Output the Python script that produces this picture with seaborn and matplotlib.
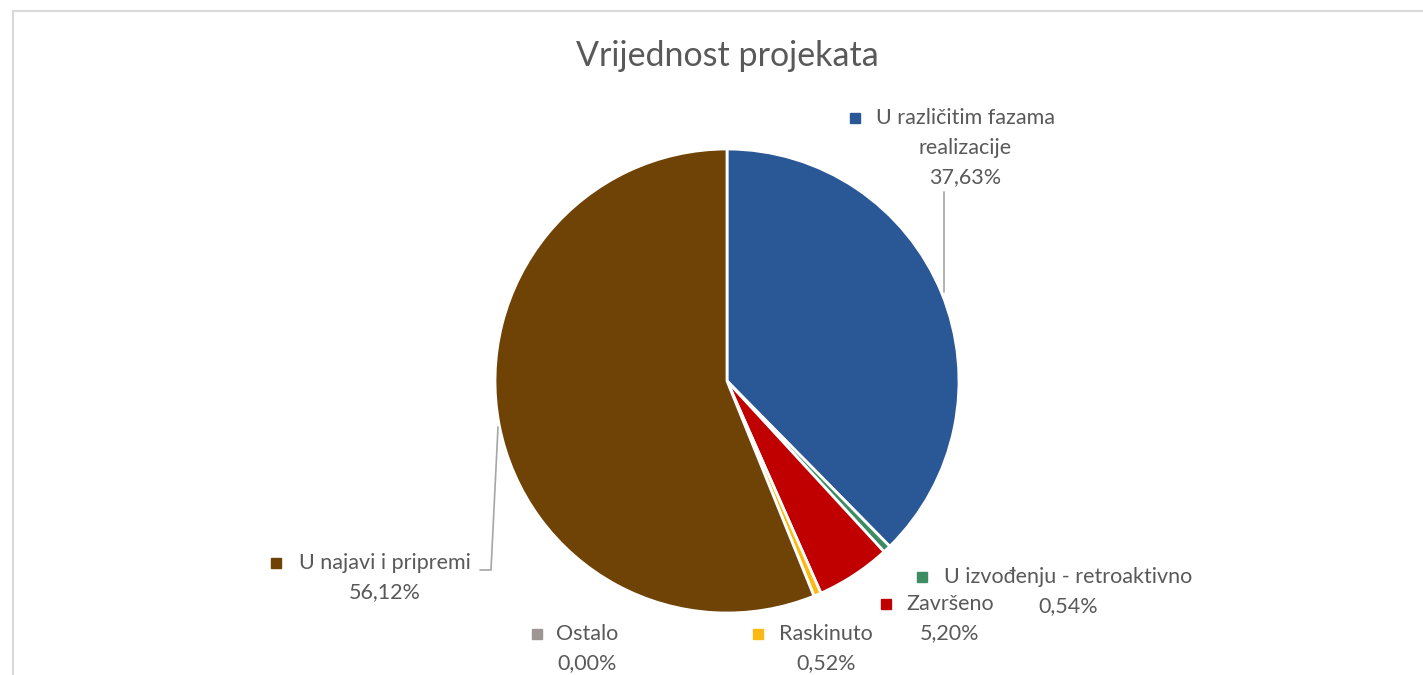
import matplotlib
matplotlib.use("Agg")
import matplotlib.pyplot as plt
from matplotlib.patches import Rectangle
import seaborn as sns

# Data
categories = ["U različitim fazama\nrealizacije", "U izvođenju - retroaktivno", "Završeno",
              "Raskinuto", "Ostalo", "U najavi i pripremi"]
shares = [37.63, 0.54, 5.20, 0.52, 0.00, 56.12]
colors = ["#2A5795", "#3E8C64", "#C00000", "#FDB913", "#9E9595", "#6F4206"]

sns.set_theme(style="white")
plt.rcParams['font.family'] = ['Lato', 'DejaVu Sans']
text_color = "#595959"

W, H = 1423, 675
fig = plt.figure(figsize=(W / 100, H / 100), dpi=100)
ax = fig.add_axes([0, 0, 1, 1])

# pixel layout helpers: pie center and radius in pixels
cx, cy, R = 727, 381, 232
def px(x, y):
    return (x - cx) / R, (cy - y) / R

palette = sns.color_palette(colors)
ax.pie(shares, colors=palette, startangle=90, counterclock=False, radius=1.0,
       center=(0, 0), frame=True,
       wedgeprops=dict(edgecolor='white', linewidth=2.0))
ax.set_xlim(-cx / R, (W - cx) / R)
ax.set_ylim(-(H - cy) / R, cy / R)
ax.set_aspect('equal')
ax.axis('off')

# label layout (pixel positions): text column center x, marker position (first line)
label_x = [965, 1068, 950, 826, 587, 385]
marker_pos = [(855, 118), (922, 577), (886, 604), (758, 634), (537, 634), (276, 563)]
line_gap = 29.5

for cat, val, col, lx, mp in zip(categories, shares, palette, label_x, marker_pos):
    pct = f"{val:.2f}".replace('.', ',') + '%'
    lines = cat.split("\n") + [pct]
    for i, line in enumerate(lines):
        tx, ty = px(lx, mp[1] + i * line_gap)
        ax.text(tx, ty, line, ha='center', va='center', fontsize=15.5, color=text_color)
    mx, my = px(*mp)
    ax.plot([mx], [my], marker='s', markersize=6.5, color=col, linestyle='none')

# leader lines
lx, ly = zip(*[px(944, 192), px(944, 292)])
ax.plot(lx, ly, color="#A6A6A6", linewidth=1.2)
lx, ly = zip(*[px(480, 570), px(491, 570), px(498, 427)])
ax.plot(lx, ly, color="#A6A6A6", linewidth=1.2)

# title
tx, ty = px(727, 56)
ax.text(tx, ty, "Vrijednost projekata", ha='center', va='center', fontsize=24.5, color=text_color)

# chart area frame (left and top edges visible)
fig.add_artist(Rectangle((13 / W, -0.5), 2.0, 1.5 - 11 / H, transform=fig.transFigure,
                         fill=False, edgecolor="#D9D9D9", linewidth=1.5))

fig.savefig("out.png", dpi=100)
